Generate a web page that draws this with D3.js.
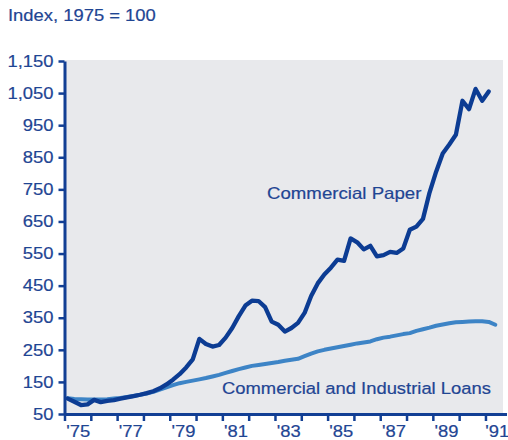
<!DOCTYPE html>
<html>
<head>
<meta charset="utf-8">
<script src="https://cdn.jsdelivr.net/npm/d3@7"></script>
<style>
  html, body { margin: 0; padding: 0; background: #ffffff; }
  svg { display: block; }
  text { font-family: "Liberation Sans", Arial, sans-serif; fill: #1f4593; }
</style>
</head>
<body>
<svg id="chart" width="508" height="440"></svg>
<script>
// Quarterly index values, 1975 = 100, from 1975 Q1 onward
const firstYear = 1975;
const commercialPaper = [
  98, 88, 78, 80, 94, 87, 91, 93, 98, 102, 106, 110, 115, 121, 130, 142,
  157, 174, 195, 220, 284, 268, 260, 265, 288, 318, 355, 388, 403, 402, 383, 338,
  328, 307, 318, 334, 365, 418, 457, 485, 506, 531, 527, 597, 585, 563, 574, 541,
  545, 555, 552, 566, 624, 634, 658, 740, 805, 862, 890, 920, 1026, 1000, 1063, 1026,
  1055
];
const ciLoans = [
  99, 97, 96, 95, 95, 95, 96, 98, 100, 103, 106, 110, 114, 119, 126, 133,
  140, 146, 150, 154, 158, 162, 167, 172, 178, 184, 190, 195, 200, 203, 206, 209,
  212, 216, 219, 222, 230, 238, 245, 250, 254, 258, 262, 266, 270, 273, 276, 283,
  288, 291, 295, 299, 302, 309, 314, 319, 325, 329, 333, 336, 337, 338, 339, 339,
  337, 328
];
const yTicks = [50, 150, 250, 350, 450, 550, 650, 750, 850, 950, 1050, 1150];
const yearTicks = d3.range(1975, 1992);
const yearLabels = [1975, 1977, 1979, 1981, 1983, 1985, 1987, 1989, 1991];

const svg = d3.select("#chart");

// Each quarter is placed at its midpoint within the year
const qDate = i => firstYear + 0.125 + 0.25 * i;

const yearWidth = 26.31;
const x = d3.scaleLinear().domain([1975, 1991.8]).range([64.5, 64.5 + 16.8 * yearWidth]);
const y = d3.scaleLinear().domain([50, 1150]).range([414, 61]);

// Plot background
svg.append("rect")
  .attr("x", x(1975))
  .attr("y", y(1150) - 1)
  .attr("width", 503 - x(1975))
  .attr("height", y(50) - y(1150) + 1)
  .attr("fill", "#e8e9ec");

// Title
svg.append("text")
  .attr("class", "wide")
  .attr("x", 8)
  .attr("y", 21)
  .attr("font-size", 16.3)
  .text("Index, 1975 = 100");

// Series lines
const line = d3.line()
  .x((d, i) => x(qDate(i)))
  .y(d => y(d))
  .curve(d3.curveLinear);

svg.append("path")
  .datum(ciLoans)
  .attr("d", line)
  .attr("fill", "none")
  .attr("stroke", "#3d84c6")
  .attr("stroke-width", 4)
  .attr("stroke-linejoin", "round")
  .attr("stroke-linecap", "round");

svg.append("path")
  .datum(commercialPaper)
  .attr("d", line)
  .attr("fill", "none")
  .attr("stroke", "#0c3c93")
  .attr("stroke-width", 4.3)
  .attr("stroke-linejoin", "round")
  .attr("stroke-linecap", "round");

// Series labels
svg.append("text")
  .attr("class", "wide")
  .attr("x", 267)
  .attr("y", 199)
  .attr("font-size", 16.5)
  .text("Commercial Paper");

svg.append("text")
  .attr("class", "wide")
  .attr("x", 222)
  .attr("y", 394)
  .attr("font-size", 16.3)
  .text("Commercial and Industrial Loans");

// Axes
const axisColor = "#123f94";

const yAxis = svg.append("g")
  .attr("transform", `translate(${x(1975)},0)`)
  .call(d3.axisLeft(y)
    .tickValues(yTicks)
    .tickSize(6)
    .tickSizeOuter(0)
    .tickPadding(5)
    .tickFormat(d3.format(",")));

const xAxis = svg.append("g")
  .attr("transform", `translate(0,${y(50)})`)
  .call(d3.axisBottom(x)
    .tickValues(yearTicks)
    .tickSize(7)
    .tickSizeOuter(0)
    .tickFormat(""));

const xLabels = svg.append("g")
  .attr("transform", `translate(0,${y(50)})`)
  .call(d3.axisBottom(x)
    .tickValues(yearLabels.map(yr => yr + 0.5))
    .tickSize(0)
    .tickPadding(11)
    .tickFormat(v => "'" + String(Math.floor(v)).slice(2)));
xLabels.select(".domain").remove();
// keep the last year label inside the frame
xLabels.selectAll(".tick text").filter(v => v > 1991).attr("dx", -2);

[yAxis, xAxis].forEach(g => {
  g.select(".domain")
    .attr("stroke", axisColor)
    .attr("stroke-width", 3);
  g.selectAll(".tick line")
    .attr("stroke", axisColor)
    .attr("stroke-width", 2.5);
});

svg.selectAll(".tick text")
  .attr("class", "wide")
  .attr("font-family", "Liberation Sans, Arial, sans-serif")
  .attr("font-size", 16.3)
  .attr("fill", "#1f4593");

// The lettering is set slightly wide and a touch heavy
svg.selectAll("text.wide").each(function () {
  const len = this.getComputedTextLength();
  d3.select(this)
    .attr("textLength", len * 1.13)
    .attr("lengthAdjust", "spacingAndGlyphs")
    .attr("stroke", "#1f4593")
    .attr("stroke-width", 0.2);
});
</script>
</body>
</html>
